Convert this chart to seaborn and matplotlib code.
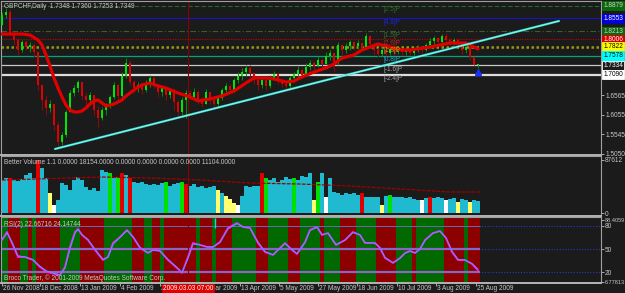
import matplotlib
matplotlib.use("Agg")
import matplotlib.pyplot as plt
import matplotlib.transforms as mtransforms
import numpy as np
import pandas as pd
import seaborn as sns

# ------------------------------------------------------------------ data
first_open = 1.8379
closes = [1.8638, 1.8716, 1.8172, 1.7991, 1.7732, 1.7939, 1.7809, 1.7861, 1.7680, 1.6826,
          1.6437, 1.6230, 1.6333, 1.5789, 1.5349, 1.5530, 1.6126, 1.6618, 1.6748, 1.6903,
          1.6541, 1.6437, 1.6567, 1.6178, 1.5971, 1.6178, 1.6282, 1.6515, 1.6826, 1.6541,
          1.7059, 1.7395, 1.6903, 1.6748, 1.6826, 1.6696, 1.6851, 1.7007, 1.6826, 1.6644,
          1.6748, 1.6567, 1.6696, 1.6385, 1.6126, 1.6437, 1.6618, 1.6515, 1.6644, 1.6437,
          1.6333, 1.6644, 1.6437, 1.6333, 1.6489, 1.6696, 1.6800, 1.6696, 1.6955, 1.7059,
          1.7162, 1.7266, 1.7136, 1.6955, 1.6826, 1.6955, 1.6800, 1.7007, 1.7110, 1.6955,
          1.6851, 1.6800, 1.7007, 1.7110, 1.7214, 1.7085, 1.7292, 1.7395, 1.7318, 1.7473,
          1.7369, 1.7576, 1.7654, 1.7421, 1.7861, 1.7732, 1.7835, 1.7939, 1.7835, 1.7913,
          1.7809, 1.8094, 1.7887, 1.7732, 1.7628, 1.7732, 1.7654, 1.7758, 1.7680, 1.7758,
          1.7680, 1.7732, 1.7654, 1.7758, 1.7809, 1.7732, 1.7861, 1.7965, 1.8043, 1.7939,
          1.8094, 1.7991, 1.7913, 1.7991, 1.7913, 1.7732, 1.7809, 1.7551, 1.7348, 1.7349]
highs = [1.8716, 1.8820, 1.8794, 1.8120, 1.8043, 1.7991, 1.7991, 1.7939, 1.7913, 1.7551,
         1.6826, 1.6541, 1.6437, 1.6333, 1.5867, 1.5608, 1.6178, 1.6696, 1.6826, 1.6955,
         1.6903, 1.6618, 1.6644, 1.6567, 1.6282, 1.6256, 1.6359, 1.6567, 1.6903, 1.6851,
         1.7162, 1.7525, 1.7473, 1.6955, 1.6903, 1.6851, 1.6955, 1.7085, 1.7033, 1.6851,
         1.6800, 1.6774, 1.6748, 1.6748, 1.6437, 1.6515, 1.6696, 1.6696, 1.6748, 1.6696,
         1.6515, 1.6722, 1.6644, 1.6489, 1.6541, 1.6748, 1.6877, 1.6851, 1.7007, 1.7162,
         1.7266, 1.7343, 1.7343, 1.7162, 1.7007, 1.7007, 1.6981, 1.7085, 1.7188, 1.7136,
         1.7007, 1.6955, 1.7059, 1.7162, 1.7318, 1.7266, 1.7395, 1.7473, 1.7447, 1.7551,
         1.7525, 1.7680, 1.7732, 1.7654, 1.7939, 1.7887, 1.7913, 1.7991, 1.7965, 1.7991,
         1.7939, 1.8172, 1.8120, 1.7913, 1.7784, 1.7809, 1.7784, 1.7835, 1.7809, 1.7835,
         1.7784, 1.7809, 1.7784, 1.7809, 1.7861, 1.7861, 1.7913, 1.8043, 1.8094, 1.8069,
         1.8146, 1.8172, 1.8043, 1.8043, 1.8017, 1.7939, 1.7861, 1.7809, 1.7576, 1.7360]
lows = [1.8379, 1.8561, 1.8120, 1.7861, 1.7602, 1.7680, 1.7732, 1.7680, 1.7551, 1.6696,
        1.6178, 1.6048, 1.6126, 1.5660, 1.5194, 1.5271, 1.5478, 1.6126, 1.6541, 1.6644,
        1.6437, 1.6282, 1.6333, 1.6048, 1.5737, 1.5919, 1.6048, 1.6230, 1.6463, 1.6437,
        1.6489, 1.7007, 1.6826, 1.6618, 1.6644, 1.6592, 1.6644, 1.6774, 1.6748, 1.6515,
        1.6541, 1.6437, 1.6489, 1.6178, 1.5971, 1.6048, 1.5971, 1.6437, 1.6463, 1.6333,
        1.6256, 1.6333, 1.6333, 1.6230, 1.6282, 1.6437, 1.6618, 1.6618, 1.6644, 1.6877,
        1.6955, 1.7059, 1.7033, 1.6851, 1.6696, 1.6748, 1.6696, 1.6748, 1.6955, 1.6851,
        1.6774, 1.6722, 1.6748, 1.6903, 1.7007, 1.7007, 1.7085, 1.7214, 1.7214, 1.7292,
        1.7292, 1.7369, 1.7473, 1.7162, 1.7343, 1.7602, 1.7654, 1.7732, 1.7732, 1.7758,
        1.7732, 1.7758, 1.7784, 1.7602, 1.7551, 1.7576, 1.7551, 1.7602, 1.7576, 1.7628,
        1.7602, 1.7602, 1.7602, 1.7602, 1.7680, 1.7654, 1.7706, 1.7784, 1.7887, 1.7861,
        1.7887, 1.7887, 1.7835, 1.7861, 1.7835, 1.7628, 1.7654, 1.7473, 1.7343, 1.7253]

ma_bars = [0, 5, 7, 9, 10, 11, 12, 13, 14, 15, 16, 17, 18, 19, 20, 21, 22, 23, 24, 25,
           26, 27, 28, 29, 30, 31, 32, 33, 34, 35, 37, 39, 41, 44, 47, 49, 52, 55, 58, 61,
           63, 66, 68, 71, 73, 75, 78, 81, 83, 85, 88, 90, 92, 94, 97, 100, 102, 107, 112,
           116, 119]
ma_vals = [1.8146, 1.8146, 1.8120, 1.7991, 1.7861, 1.7602, 1.7318, 1.7007, 1.6748, 1.6515,
           1.6307, 1.6178, 1.6126, 1.6126, 1.6152, 1.6230, 1.6333, 1.6411, 1.6437, 1.6359,
           1.6282, 1.6307, 1.6333, 1.6385, 1.6437, 1.6541, 1.6618, 1.6696, 1.6774, 1.6826,
           1.6877, 1.6800, 1.6748, 1.6618, 1.6515, 1.6411, 1.6463, 1.6541, 1.6670, 1.6877,
           1.7007, 1.7007, 1.6981, 1.6903, 1.6929, 1.7033, 1.7162, 1.7266, 1.7369, 1.7525,
           1.7602, 1.7732, 1.7809, 1.7887, 1.7809, 1.7732, 1.7732, 1.7809, 1.7913, 1.7913,
           1.7758]

trend_bars = [13.25, 139.25]
trend_vals = [1.5168, 1.8483]

levels = [1.8879, 1.8553, 1.8213, 1.8006, 1.7822, 1.7578, 1.7334, 1.7090]
level_tags = ["[2.5]P", "[4.8]P", "[1.5]P", "[2.6]P", "[1.8]P", "[0.8]P", "[-1.6]P", "[-2.4]P"]
price_ticks = [1.6565, 1.6055, 1.5545, 1.5050]
arrow_bar, arrow_val = 119, 1.7162
marker_bar = 46.5

volumes = [54500, 57900, 57900, 54500, 52900, 56200, 62800, 66100, 57900, 87600,
           74400, 57900, 33100, 13200, 21500, 49600, 46300, 38000, 54500, 59500,
           54500, 43000, 38000, 41300, 36400, 71100, 67800, 66100, 57900, 59500,
           66100, 62800, 57900, 51200, 49600, 51200, 47900, 46300, 47900, 46300,
           49600, 51200, 44600, 47900, 49600, 51200, 47900, 44600, 47900, 43000,
           44600, 41300, 43000, 44600, 38000, 33100, 28100, 23100, 16500, 13200,
           28100, 44600, 43000, 44600, 44600, 66100, 57900, 54500, 57900, 51200,
           54500, 59500, 56200, 57900, 54500, 61200, 59500, 66100, 21500, 51200,
           66100, 26400, 57900, 34700, 33100, 29800, 33100, 31400, 33100, 29800,
           33100, 26400, 26400, 26400, 26400, 13200, 28100, 29800, 26400, 26400,
           26400, 24800, 26400, 23100, 21500, 21500, 24800, 26400, 24800, 26400,
           24800, 21500, 23100, 24800, 18200, 23100, 21500, 18200, 21500, 19800]
volume_kind = list("ccrccccccr" "ccywcccccc" "cccccccgcg" "rcrccccccc" "cgcccgrccc"
                   "ccccycyyyw" "cccccrgccc" "cccgccccyg" "cwcccccccc" "rccccycgcc"
                   "cccccwcrcc" "cwccyccycc")
vol_ma_bars = [0, 24.5, 37, 49.5, 62, 74.5, 87, 99.5, 112, 119.5]
vol_ma_vals = [54500, 59500, 57900, 54500, 49600, 47900, 44600, 39700, 34700, 34700]

rsi_bars = [0, 1.25, 2.5, 4, 5.75, 7.75, 9.5, 11.25, 13.25, 14.5, 15.75, 17, 18.25, 19,
            20, 21.5, 23.25, 25.25, 26.5, 27.75, 29.5, 31.25, 32.75, 34.5, 36.5, 37.75,
            39.5, 41.5, 43.75, 45, 46.5, 47.75, 49.5, 51.25, 52.75, 54.5, 56.5, 58.75,
            60.25, 62, 64, 65.75, 67.75, 69.5, 70.75, 72.5, 73.75, 75.75, 77, 78.75, 80,
            81.5, 83.5, 85.75, 87.75, 89.5, 90.75, 93.25, 94.5, 95.75, 97.75, 99.5,
            100.75, 102, 103.25, 104.5, 105.75, 107.75, 109.5, 111, 112.5, 114, 115.75,
            117.5, 119]
rsi_vals = [61.8, 72.2, 57.9, 39.8, 39.8, 35.9, 26.8, 20.4, 17.8, 16.5, 26.8, 52.8, 72.2,
            76.1, 68.3, 61.8, 48.9, 35.9, 39.8, 57.9, 65.7, 74.8, 65.7, 51.5, 45.0, 48.9,
            47.6, 35.9, 25.5, 19.1, 39.8, 57.9, 55.4, 52.8, 52.8, 59.2, 77.4, 83.9, 78.7,
            77.4, 57.9, 46.3, 42.4, 51.5, 57.9, 48.9, 43.7, 59.2, 74.8, 78.7, 68.3, 70.9,
            55.4, 61.8, 72.2, 68.3, 57.9, 57.9, 51.5, 38.5, 32.1, 38.5, 45.0, 47.6, 45.0,
            50.2, 61.8, 70.9, 73.5, 64.4, 46.3, 35.9, 35.9, 30.8, 22.67]
rsi_signal = [61.8, 71.0, 59.5, 41.5, 40.0, 36.5, 28.0, 21.5, 18.5, 17.0, 25.0, 50.0, 70.5,
              75.5, 69.0, 62.5, 50.0, 37.0, 39.5, 56.0, 65.0, 74.0, 66.5, 52.5, 45.5, 48.5,
              47.8, 37.0, 26.5, 20.0, 37.5, 56.5, 55.5, 53.0, 52.8, 58.5, 76.0, 83.0, 79.0,
              77.5, 59.5, 47.0, 42.8, 51.0, 57.0, 49.5, 44.0, 58.0, 74.0, 78.5, 69.0, 70.5,
              56.0, 61.5, 71.5, 68.5, 58.5, 57.9, 52.0, 39.5, 32.5, 38.0, 44.5, 47.4, 45.2,
              49.8, 61.0, 70.5, 73.3, 65.0, 47.5, 36.8, 36.0, 31.5, 24.15]
band_starts = [0, 2, 5, 7, 8, 9, 15, 20, 26, 33, 36, 38, 40, 41, 49, 50, 53, 54, 58, 64,
               67, 72, 75, 80, 81, 85, 89, 94, 99, 103, 104, 111, 116, 117]
band_colors = list("grgrgrgrgrgrgrgrgrgrgrgrgrgrgrgrgr")
rsi_ticks = [88.4059, 80, 50, 20, 6.77813]
rsi_tick_labels = ["88.4059", "80", "50", "20", "6.77813"]

date_bars = [0, 9.5, 19.5, 29.5, 39.5, 49.5, 59.5, 69.25, 79, 88.75, 98.75, 108.5, 118.5]
date_labels = ["26 Nov 2008", "18 Dec 2008", "13 Jan 2009", "4 Feb 2009", "26 Feb 2009",
               "20 Mar 2009", "13 Apr 2009", "5 May 2009", "27 May 2009", "18 Jun 2009",
               "10 Jul 2009", "3 Aug 2009", "25 Aug 2009"]

# ------------------------------------------------------------------ style
W, H = 625, 293
sns.set_theme(style="dark")
plt.rcParams["font.family"] = ["Liberation Sans", "DejaVu Sans"]
BG = "#1b1b1b"
TXT = "#c8c8c8"
FS = 4.7

fig = plt.figure(figsize=(W / 100, H / 100), dpi=100, facecolor=BG)


def rect(x0, y0, x1, y1):
    return [x0 / W, 1 - y1 / H, (x1 - x0) / W, (y1 - y0) / H]


ax_p = fig.add_axes(rect(1, 1, 601, 155))
ax_v = fig.add_axes(rect(1, 156, 601, 216))
ax_r = fig.add_axes(rect(1, 217, 601, 283))
XLIM = (-0.25, 149.75)

# ------------------------------------------------------------------ price panel
level_colors = ["#1f6e1f", "#1414c8", "#3c5e28", "#c80000", "#9a9a10", "#00a878", "#c8c8c8", "#dcdcdc"]
level_styles = [(0, (4, 2)), "-", (0, (5, 2, 1, 2)), (0, (1, 1.2)), (0, (1, 1)), "-", "-", "-"]
level_widths = [0.8, 0.8, 0.8, 0.8, 1.8, 0.9, 0.9, 1.6]
box_fc = ["#0a6a0a", "#0000d8", "#0a6a0a", "#d80000", "#ffff00", "#00ffff", BG, "#ffffff"]
box_tc = ["#d0d0d0", "#ffffff", "#d0d0d0", "#ffffff", "#000000", "#000000", "#ffffff", "#000000"]
box_ec = ["#0a6a0a", "#0000d8", "#0a6a0a", "#d80000", "#ffff00", "#00ffff", "#ffffff", "#ffffff"]
tag_colors = ["#2a6e2a", "#2424d8", "#3e6a34", "#c82020", "#d8a000", "#20a8c8", "#a8a8a8", "#a8a8a8"]

for lv, col, ls, lw in zip(levels, level_colors, level_styles, level_widths):
    ax_p.axhline(lv, color=col, ls=ls, lw=lw, zorder=1)

bars = np.arange(len(closes))
o = np.array([first_open] + closes[:-1])
c = np.array(closes)
hi = np.maximum(np.array(highs), np.maximum(o, c))
lo = np.minimum(np.array(lows), np.minimum(o, c))
bull = c >= o
ax_p.vlines(bars[bull], lo[bull], hi[bull], color="#0a8c0a", lw=0.7, zorder=3)
ax_p.vlines(bars[~bull], lo[~bull], hi[~bull], color="#8c0a0a", lw=0.7, zorder=3)
body_lo = np.minimum(o, c)
body_h = np.maximum(np.abs(c - o), 0.0026)
ax_p.bar(bars[bull], body_h[bull], bottom=body_lo[bull], width=0.4, color="#00e600", lw=0, zorder=3)
ax_p.bar(bars[~bull], body_h[~bull], bottom=body_lo[~bull], width=0.4, color="#e00000", lw=0, zorder=3)

sns.lineplot(x=ma_bars, y=ma_vals, ax=ax_p, color="#e00000", lw=2.3, sort=False,
             estimator=None, legend=False, zorder=4)
sns.lineplot(x=trend_bars, y=trend_vals, ax=ax_p, color="#30d8d0", lw=1.6, sort=False,
             estimator=None, legend=False, zorder=5)
sns.lineplot(x=trend_bars, y=trend_vals, ax=ax_p, color="#b0fff4", lw=0.5, sort=False,
             estimator=None, legend=False, zorder=5)
ax_p.plot([arrow_bar], [arrow_val], marker="^", ms=4, mfc="#1830ff", mec="#1830ff", zorder=6)

for lv, tag, col in zip(levels, level_tags, tag_colors):
    ax_p.text(95.5, lv - 0.0008, tag, color=col, fontsize=FS, ha="left", va="top", zorder=6)

ax_p.set_ylim(1.5012, 1.9001)
blend_p = mtransforms.blended_transform_factory(ax_p.transAxes, ax_p.transData)
for lv, fc, tc, ec in zip(levels, box_fc, box_tc, box_ec):
    ax_p.text(1.004, lv, f"{lv:.4f}", transform=blend_p, ha="left", va="center", fontsize=FS,
              color=tc, clip_on=False,
              bbox=dict(boxstyle="square,pad=0.18", fc=fc, ec=ec, lw=0.6))
ax_p.set_yticks(price_ticks)
ax_p.set_yticklabels([f"{t:.4f}" for t in price_ticks])

# ------------------------------------------------------------------ volume panel
vdf = pd.DataFrame({"bar": np.arange(len(volumes)), "vol": volumes, "kind": volume_kind})
vpal = {"c": "#1fbad0", "r": "#e00000", "g": "#00e000", "y": "#ffff70", "w": "#ffffff"}
sns.barplot(data=vdf, x="bar", y="vol", hue="kind", palette=vpal, dodge=False, native_scale=True,
            width=1.0, errorbar=None, legend=False, saturation=1, linewidth=0, ax=ax_v)
sns.lineplot(x=vol_ma_bars, y=vol_ma_vals, ax=ax_v, color="#a00000", lw=0.9, sort=False,
             estimator=None, legend=False, linestyle=(0, (3, 1)))
ax_v.set_ylim(-4959, 94221)
ax_v.set_yticks([87612, 0])
ax_v.set_yticklabels(["87612", "0"])

# ------------------------------------------------------------------ RSI panel
band_pal = {"g": "#006a00", "r": "#8c0000"}
ends = band_starts[1:] + [len(closes)]
for s, e, col in zip(band_starts, ends, band_colors):
    ax_r.axvspan(s - 0.5, e - 0.5, color=band_pal[col], lw=0, zorder=0)
for lv in (80, 50, 20):
    ax_r.axhline(lv, color="#2838d0", lw=0.8, ls=(0, (1, 1.5)), zorder=1)
ax_r.hlines([80], -0.5, len(closes) - 0.5, color="#6a6aa8", lw=0.7, zorder=2)
ax_r.hlines([50, 20], -0.5, len(closes) - 0.5, color="#8866c8", lw=1.6, zorder=2)
sns.lineplot(x=rsi_bars, y=rsi_vals, ax=ax_r, color="#ff20ff", lw=1.3, sort=False,
             estimator=None, legend=False, zorder=4)
sns.lineplot(x=rsi_bars, y=rsi_signal, ax=ax_r, color="#40a0ff", lw=0.6, sort=False,
             estimator=None, legend=False, zorder=5)
ax_r.vlines([53.25], 77, 90, color="#00e0e0", lw=1.0, zorder=5)
ax_r.set_ylim(6.11, 91.65)
ax_r.set_yticks(rsi_ticks)
ax_r.set_yticklabels(rsi_tick_labels)

# ------------------------------------------------------------------ common axes styling
for ax in (ax_p, ax_v, ax_r):
    ax.set_facecolor(BG)
    ax.set_xlim(*XLIM)
    ax.set_xlabel("")
    ax.set_ylabel("")
    ax.grid(False)
    ax.axvline(marker_bar, color="#8b0000", lw=0.8, zorder=2)
    for s in ax.spines.values():
        s.set_color("#a0a0a0")
        s.set_linewidth(0.8)
    ax.spines["bottom"].set_linewidth(1.4)
    ax.spines["bottom"].set_color("#b4b4b4")
    ax.yaxis.tick_right()
    ax.tick_params(axis="y", which="both", right=True, left=False, labelright=True,
                   labelleft=False, length=2, width=0.6, color="#c0c0c0",
                   labelcolor=TXT, labelsize=FS, pad=1)
    ax.tick_params(axis="x", bottom=False, labelbottom=False)

# the extreme RSI scale labels are a bit smaller so they fit inside the right strip
for lab in ax_r.get_yticklabels():
    if lab.get_text() in ("88.4059", "6.77813"):
        lab.set_fontsize(4.0)

ax_r.set_xticks(date_bars)
ax_r.tick_params(axis="x", bottom=True, length=2.5, width=0.6, color="#c0c0c0", labelbottom=False)
yoff = (283 - 288.5) / 66.0
blend_r = mtransforms.blended_transform_factory(ax_r.transData, ax_r.transAxes)
for b, lab in zip(date_bars, date_labels):
    ax_r.text(b + 0.3, yoff, lab, transform=blend_r,
              ha="left", va="center", fontsize=FS, color=TXT, clip_on=False)
ax_r.text(marker_bar, yoff, "2009.03.03 07:00", transform=blend_r,
          ha="center", va="center", fontsize=FS, color="#ffffff", clip_on=False, zorder=10,
          bbox=dict(boxstyle="square,pad=0.15", fc="#e00000", ec="#e00000", lw=0.5))

# ------------------------------------------------------------------ header texts
fig.text(4 / W, 1 - 6 / H, "GBPCHF,Daily  1.7348 1.7360 1.7253 1.7349", fontsize=FS, color=TXT,
         ha="left", va="center")
fig.text(4 / W, 1 - 162 / H,
         "Better Volume 1.1 0.0000 18154.0000 0.0000 0.0000 0.0000 0.0000 11104.0000",
         fontsize=FS, color=TXT, ha="left", va="center")
fig.text(4 / W, 1 - 224 / H, "RSI(2) 22.66716 24.14744", fontsize=FS, color=TXT,
         ha="left", va="center")
fig.text(4 / W, 1 - 278 / H, "Broco Trader, \u00a9 2001-2009 MetaQuotes Software Corp.",
         fontsize=FS, color=TXT, ha="left", va="center")

fig.savefig("out.png", dpi=100, facecolor=BG)
